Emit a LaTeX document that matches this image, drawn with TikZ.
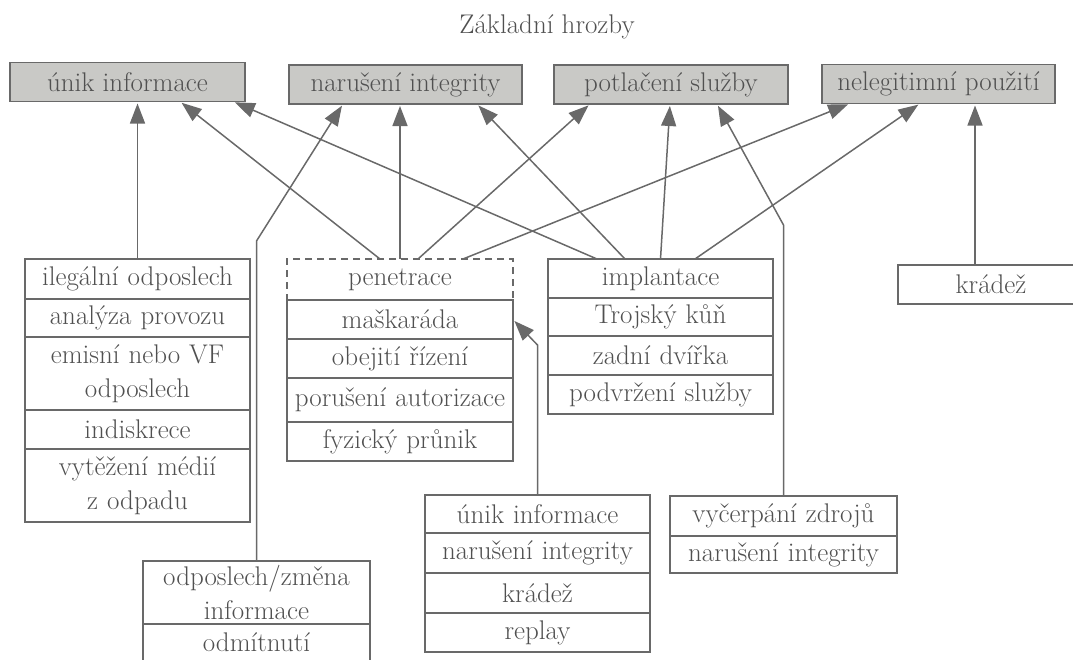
\documentclass[tikz,border=0pt]{standalone}
\usepackage{fontspec}
\usepackage{tikz}
\usetikzlibrary{positioning,arrows.meta}
\definecolor{boxgray}{RGB}{201,201,198}
\definecolor{edgegray}{RGB}{105,105,105}
\definecolor{textgray}{RGB}{80,80,80}
\tikzset{
TOPBOX/.style={draw=edgegray,fill=boxgray,line width=1.6pt,text=textgray,inner sep=0pt,outer sep=0pt,minimum height=39pt,minimum width=#1},
TOPBOX/.default=233pt,
BOX/.style={draw=edgegray,line width=1.5pt,text=textgray,inner sep=0pt,outer sep=0pt,align=center,text width=#1},
BOX/.default=225pt,
ARR/.style={draw=edgegray,line width=1.5pt,-{Triangle[length=20pt,width=15pt]},shorten >=2pt},
}

\begin{document}
\begin{tikzpicture}[x=1pt,y=-1pt,font=\fontsize{27}{34}\selectfont] %Zakladni hrozby
	\useasboundingbox (0,0) rectangle (1073,659);
	\clip (0,0) rectangle (1073,659);
	\node[text=textgray] (title) at (547,27) {Základní hrozby};
	\node[TOPBOX=235pt] (unik) at (127.5,82) {únik informace};
	\node[TOPBOX=233pt] (narus) at (405.5,84.5) {narušení integrity};
	\node[TOPBOX=234pt] (potl) at (671,84.5) {potlačení služby};
	\node[TOPBOX=233pt] (neleg) at (938.5,84) {nelegitimní použití};
	% left column
	\node[BOX,minimum height=40pt,anchor=north] (ileg) at (137.5,259) {ilegální odposlech};
	\node[BOX,minimum height=38pt,below=0pt of ileg] (analyza) {analýza provozu};
	\node[BOX,minimum height=73pt,below=0pt of analyza] (emis) {emisní nebo VF\\odposlech};
	\node[BOX,minimum height=39pt,below=0pt of emis] (indis) {indiskrece};
	\node[BOX,minimum height=73pt,below=0pt of indis] (vytez) {vytěžení médií\\z odpadu};
	% penetrace
	\node[BOX=226pt,minimum height=41pt,anchor=north,dash pattern=on 7pt off 5pt] (penet) at (400,259) {penetrace};
	\node[BOX=226pt,minimum height=39pt,below=0pt of penet] (mask) {maškaráda};
	\node[BOX=226pt,minimum height=39pt,below=0pt of mask] (obej) {obejití řízení};
	\node[BOX=226pt,minimum height=44pt,below=0pt of obej] (poru) {porušení autorizace};
	\node[BOX=226pt,minimum height=39pt,below=0pt of poru] (fyz) {fyzický průnik};
	% implantace
	\node[BOX,minimum height=39pt,anchor=north] (impl) at (660.5,259) {implantace};
	\node[BOX,minimum height=38pt,below=0pt of impl] (troj) {Trojský kůň};
	\node[BOX,minimum height=39pt,below=0pt of troj] (zadni) {zadní dvířka};
	\node[BOX,minimum height=39pt,below=0pt of zadni] (podvr) {podvržení služby};
	\node[BOX=186pt,minimum height=39pt,anchor=north] (kradez) at (991,265) {krádež};
	% bottom row
	\node[BOX=227pt,minimum height=63pt,anchor=north] (odposl) at (256.5,561) {odposlech/změna\\informace};
	\node[BOX=227pt,minimum height=37pt,below=0pt of odposl] (odmit) {odmítnutí};
	\node[BOX,minimum height=38pt,anchor=north] (unik2) at (537.5,495) {únik informace};
	\node[BOX,minimum height=40pt,below=0pt of unik2] (narus2) {narušení integrity};
	\node[BOX,minimum height=40pt,below=0pt of narus2] (kradez2) {krádež};
	\node[BOX,minimum height=39pt,below=0pt of kradez2] (replay) {replay};
	\node[BOX=227pt,minimum height=40pt,anchor=north] (vycerp) at (783.5,496) {vyčerpání zdrojů};
	\node[BOX=227pt,minimum height=37pt,below=0pt of vycerp] (narus3) {narušení integrity};
	% arrows
	\draw[ARR] (ileg.north) -- (ileg.north |- unik.south);
	\draw[ARR] ([xshift=-20pt]penet.north) -- ([xshift=52.5pt]unik.south);
	\draw[ARR] ([xshift=-63.5pt]impl.north) -- ([xshift=105.5pt]unik.south);
	\draw[ARR] (odposl.north) -- ++(0,-320) -- ([xshift=-62.5pt]narus.south);
	\draw[ARR] (penet.north) -- (penet.north |- narus.south);
	\draw[ARR] ([xshift=-35.5pt]impl.north) -- ([xshift=71.5pt]narus.south);
	\draw[ARR] ([xshift=18pt]penet.north) -- ([xshift=-81pt]potl.south);
	\draw[ARR] (impl.north) -- ([xshift=-1pt]potl.south);
	\draw[ARR] (vycerp.north) -- ++(0,-271) -- ([xshift=46pt]potl.south);
	\draw[ARR] ([xshift=63pt]penet.north) -- ([xshift=-88.5pt]neleg.south);
	\draw[ARR] ([xshift=34.5pt]impl.north) -- ([xshift=-18.5pt]neleg.south);
	\draw[ARR] ([xshift=-16pt]kradez.north) -- ([xshift=-16pt]kradez.north |- neleg.south);
	\draw[ARR] (unik2.north) -- ++(0,-150) -- (mask.east);
\end{tikzpicture}
\end{document}
